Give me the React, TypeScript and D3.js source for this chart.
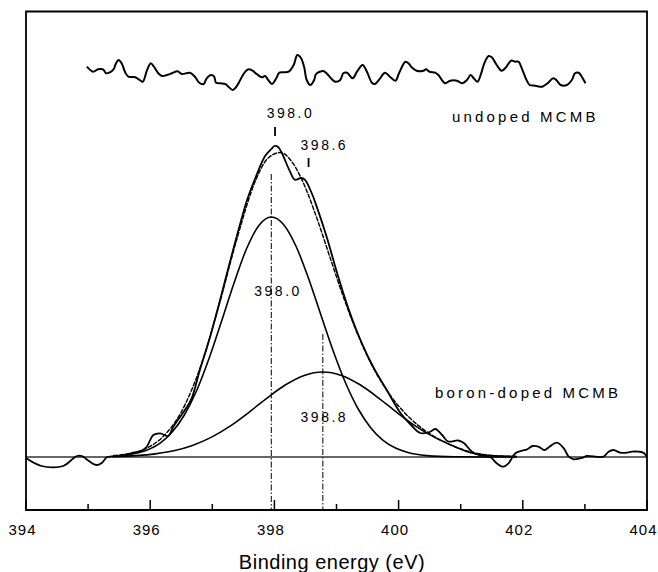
import React from "react";
import * as d3 from "d3";

const W = 658;
const H = 572;

// x ticks (eV)
const xTickMajor = [394, 396, 398, 400, 402, 404];
const xTickMinor = [395, 397, 399, 401, 403];

// undoped MCMB trace (eV, intensity a.u.)
const undopedE = [394.98,395.08,395.16,395.24,395.29,395.35,395.41,395.45,395.49,395.54,395.6,395.65,395.76,395.83,395.88,395.95,396.01,396.06,396.13,396.19,396.27,396.35,396.44,396.51,396.58,396.64,396.72,396.79,396.86,396.91,396.98,397.03,397.06,397.13,397.21,397.26,397.33,397.38,397.45,397.51,397.58,397.65,397.72,397.8,397.85,397.9,397.96,398.03,398.08,398.15,398.23,398.31,398.37,398.43,398.48,398.52,398.58,398.64,398.67,398.73,398.79,398.84,398.91,398.98,399.06,399.11,399.17,399.26,399.33,399.42,399.49,399.57,399.62,399.69,399.78,399.86,399.95,400.01,400.11,400.16,400.21,400.29,400.4,400.44,400.5,400.59,400.64,400.75,400.83,400.94,401.02,401.1,401.16,401.21,401.27,401.33,401.38,401.45,401.5,401.58,401.66,401.73,401.81,401.88,401.93,401.99,402.06,402.11,402.2,402.31,402.36,402.41,402.49,402.54,402.61,402.71,402.79,402.84,402.9,402.95,403.01];
const undopedI = [443.3,438.3,440.7,440.7,436.7,437.7,440.7,446.7,450,446.7,437.3,433.3,432.7,430,428.3,440,446.7,443.3,436.7,434,435,436.7,438.7,436,436.7,437.3,433.3,427.3,426,431.7,435,433.3,427.3,426.7,426,423.3,420,422.7,430,436.7,440.7,439.3,435.7,432.7,434,430,426,431.7,437.3,437.7,438.3,445,455,451.7,442.7,430,425,430,436,438.3,439,436.7,431.7,428.3,430,436.7,437.3,431.7,438.3,445,438.3,427.3,426,430.7,437.3,433.3,429.3,437.3,448.3,446.7,442.7,439.3,439.3,440.7,438.3,437.3,435,426.7,429.3,429.3,426.7,430,435,431.7,428.3,436.7,446.7,454,452.7,445,439.3,442.7,449.3,448.3,448.3,440.7,430,425,424.3,423.3,425,427.3,431.7,430,425,425,430,436.7,437.3,433.3,426.7];

// boron-doped MCMB measured spectrum
const dopedE = [394.0,394.25,394.6,394.75,394.82,394.9,394.99,395.13,395.22,395.3,395.35,395.62,395.72,395.83,395.94,396.05,396.16,396.29,396.37,396.48,396.59,396.67,396.8,396.95,397.1,397.25,397.4,397.56,397.7,397.85,397.95,398.0,398.06,398.12,398.25,398.33,398.43,398.49,398.6,398.68,398.84,399.01,399.2,399.4,399.6,399.8,400.03,400.2,400.35,400.5,400.59,400.7,400.8,400.96,401.05,401.18,401.29,401.48,401.58,401.69,401.77,401.88,401.99,402.07,402.16,402.25,402.35,402.43,402.55,402.66,402.74,402.82,402.9,402.98,403.03,403.3,403.38,403.46,403.57,403.68,403.76,403.87,403.95,404.0];
const dopedI = [52,44,44,51,54,54,50,45,47,52.7,53.3,55,57.3,58.3,63,75,76.7,74,83,93,103,112,140,170,204,240,275,310,333,354,361,364,363,357,338.6,330.3,332,330.3,317,303.6,273.5,237,200,168,142,121,97,85,77,78,81,75,68.5,69.5,67,58.3,55,52.7,46.7,43.3,46.7,56.7,59.3,60.7,64,63.3,60,63.3,67.3,61.7,53.3,50.7,51.3,52.7,54,53.3,58.3,60,57.3,57.3,58.3,58.3,57,52.7];

// fitted envelope
const envE = [395.4,395.6,395.9,396.2,396.5,396.8,397.1,397.4,397.7,397.9,398.1,398.3,398.5,398.7,398.9,399.1,399.3,399.5,399.7,399.9,400.1,400.3,400.6,400.9,401.2,401.5,401.9];
const envI = [54.5,55.7,60.7,73,98,141.5,203,272,330,352,357.5,346.6,322.2,288.9,251.7,215,181.9,153.5,130.3,111.7,97,85.4,72.6,63.5,57.5,54.5,53.5];

// component 1 (398.0 eV)
const c1E = [395.4,395.55,395.95,396.15,396.35,396.55,396.75,396.95,397.15,397.35,397.55,397.75,397.95,398.15,398.35,398.55,398.75,398.95,399.15,399.35,399.55,399.75,399.95,400.15,400.45,400.9,401.5,401.9];
const c1I = [53.3,54.4,59.9,66.4,77.7,95,119.7,152,189,227,261,284.6,293,285.3,263.5,231.5,194.8,158.5,126.5,101,82.3,69.7,62,57.5,54.4,53.2,53,53];

// component 2 (398.8 eV)
const c2E = [395.4,395.78,396.08,396.38,396.68,396.98,397.28,397.58,397.88,398.18,398.48,398.78,399.08,399.38,399.68,399.98,400.28,400.58,400.88,401.18,401.48,401.9];
const c2I = [53.5,54.4,56.1,59.2,64.5,72.6,83.6,97.2,111.9,125.2,134.6,138,134.6,125.2,111.9,97.2,83.6,72.6,64,57,54.5,53.5];

const baselineI = 53;

// peak markers: dash-dot vertical lines
const peakE = [397.95, 398.78];
const peakTopI = [336, 176];

// annotation texts
const peakLabels = ["398.0", "398.6", "398.0", "398.8"];
const peakLabelE = [398.24, 398.785, 398.04, 398.785];
const peakLabelI = [397, 365, 219, 93];
const peakTickE = [398.01, 398.55];
const peakTickTopI = [383, 352];
const peakTickBotI = [374, 343];
const seriesLabels = ["undoped MCMB", "boron-doped MCMB"];
const seriesLabelE = [402.015, 402.06];
const seriesLabelI = [394, 118];

const xTitle = "Binding energy (eV)";

export default function App() {
  const left = 26, right = 647, top = 11.5, bottom = 510;
  const x = d3.scaleLinear().domain([394, 404]).range([left, right]);
  const y = d3.scaleLinear().domain([0, 498.5]).range([bottom, top]);

  const lineNoisy = d3.line<[number, number]>().x(d => x(d[0])).y(d => y(d[1])).curve(d3.curveCatmullRom.alpha(0.5));
  const lineSmooth = d3.line<[number, number]>().x(d => x(d[0])).y(d => y(d[1])).curve(d3.curveMonotoneX);
  const zip = (a: number[], b: number[]) => a.map((v, i) => [v, b[i]] as [number, number]);

  const font = "Arial, 'Liberation Sans', Helvetica, sans-serif";

  return (
    <svg width={W} height={H} style={{ position: "absolute", left: 0, top: 0, display: "block", background: "#fff" }}>
      <rect x={0} y={0} width={W} height={H} fill="#fff" />
      {/* baseline */}
      <line x1={x(394)} x2={x(404)} y1={y(baselineI)} y2={y(baselineI)} stroke="#333" strokeWidth={1.3} />
      {/* peak dash-dot lines */}
      {peakE.map((e, i) => (
        <line key={"pk" + i} x1={x(e)} x2={x(e)} y1={y(peakTopI[i])} y2={bottom} stroke="#000" strokeWidth={1} strokeDasharray="6,2,1.5,2" />
      ))}
      {/* components */}
      <path d={lineSmooth(zip(c1E, c1I)) || ""} fill="none" stroke="#000" strokeWidth={1.6} />
      <path d={lineSmooth(zip(c2E, c2I)) || ""} fill="none" stroke="#000" strokeWidth={1.6} />
      {/* envelope */}
      <path d={lineSmooth(zip(envE, envI)) || ""} fill="none" stroke="#000" strokeWidth={1.4} strokeDasharray="5,1" />
      {/* measured doped */}
      <path d={lineNoisy(zip(dopedE, dopedI)) || ""} fill="none" stroke="#000" strokeWidth={1.8} strokeLinejoin="round" />
      {/* undoped */}
      <path d={lineNoisy(zip(undopedE, undopedI)) || ""} fill="none" stroke="#000" strokeWidth={2} strokeLinejoin="round" />

      {/* peak ticks */}
      {peakTickE.map((e, i) => (
        <line key={"pt" + i} x1={x(e)} x2={x(e)} y1={y(peakTickTopI[i])} y2={y(peakTickBotI[i])} stroke="#000" strokeWidth={1.8} />
      ))}
      {peakLabels.map((t, i) => (
        <text key={"pl" + i} x={x(peakLabelE[i])} y={y(peakLabelI[i])} textAnchor="middle" dominantBaseline="central"
          fontFamily={font} fontSize={14} letterSpacing={2.5} dx={1.2} fill="#000">{t}</text>
      ))}
      {seriesLabels.map((t, i) => (
        <text key={"sl" + i} x={x(seriesLabelE[i])} y={y(seriesLabelI[i])} textAnchor="middle" dominantBaseline="central"
          fontFamily={font} fontSize={15} letterSpacing={3.2} dx={1.6} fill="#000">{t}</text>
      ))}

      {/* frame */}
      <path d={`M${left},${bottom} L${left},${top} L${right},${top} L${right},${bottom}`} fill="none" stroke="#000" strokeWidth={1.8} />
      <line x1={left - 0.9} x2={right + 0.9} y1={bottom} y2={bottom} stroke="#000" strokeWidth={2} />
      {xTickMajor.map(t => (
        <line key={"M" + t} x1={x(t)} x2={x(t)} y1={bottom} y2={bottom - 10} stroke="#000" strokeWidth={1.5} />
      ))}
      {xTickMinor.map(t => (
        <line key={"m" + t} x1={x(t)} x2={x(t)} y1={bottom} y2={bottom - 6} stroke="#000" strokeWidth={1.5} />
      ))}
      {xTickMajor.map(t => (
        <text key={"L" + t} x={x(t) - 3.5} y={529} textAnchor="middle" dominantBaseline="central"
          fontFamily={font} fontSize={15} letterSpacing={1} fill="#000">{t}</text>
      ))}
      <text x={332} y={562} textAnchor="middle" dominantBaseline="central" fontFamily={font} fontSize={20} letterSpacing={0.5} fill="#000">{xTitle}</text>
    </svg>
  );
}
